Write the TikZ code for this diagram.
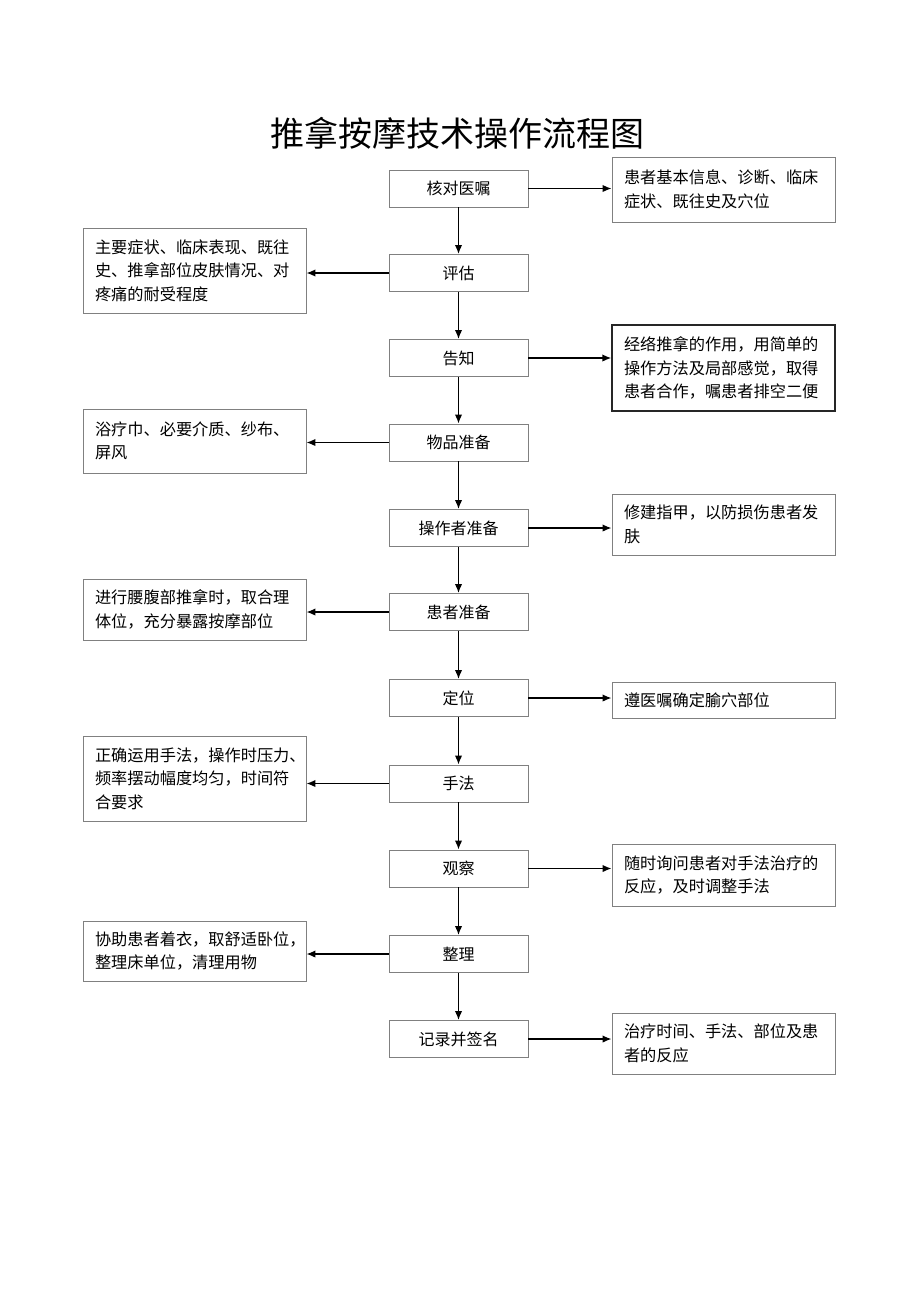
\documentclass[tikz,border=0pt]{standalone}
\usepackage{fontspec}
\setmainfont{Noto Sans CJK SC}
\usepackage{tikz}
\usetikzlibrary{shapes,arrows.meta}
\usetikzlibrary{calc}
\tikzstyle{block} = [draw=gray, line width=0.9pt, rectangle, 
    minimum height=37pt, minimum width=139pt, font=\fontsize{16}{22}\selectfont]
\tikzstyle{note} = [draw=gray, line width=0.9pt, rectangle, inner xsep=12pt,
    text width=199pt, align=left, font=\fontsize{16.2}{23.5}\selectfont]
\tikzstyle{line} = [draw, line width=1.5pt]

\begin{document}
\begin{tikzpicture}[x=1pt,y=-1pt,>={Latex[length=9pt,width=7.5pt]}]
    \useasboundingbox (0,0) rectangle (920,1301);
    \node [font=\fontsize{34}{40}\selectfont] at (457,133) (title) {推拿按摩技术操作流程图};
    % main steps
    \node [block] at (458.5,188.5) (hedui) {核对医嘱};
    \node [block] at (458.5,273) (pinggu) {评估};
    \node [block] at (458.5,358) (gaozhi) {告知};
    \node [block] at (458.5,442.5) (wupin) {物品准备};
    \node [block] at (458.5,528) (czz) {操作者准备};
    \node [block] at (458.5,612) (hzz) {患者准备};
    \node [block] at (458.5,698) (dingwei) {定位};
    \node [block] at (458.5,783.5) (shoufa) {手法};
    \node [block] at (458.5,868.5) (guancha) {观察};
    \node [block] at (458.5,954) (zhengli) {整理};
    \node [block] at (458.5,1039) (jilu) {记录并签名};
    % side notes, right
    \node [note, minimum height=65pt] at (723.5,189.5) (hedui_r) {患者基本信息、诊断、临床\\症状、既往史及穴位};
    \node [note, minimum height=86pt, draw=black!85, line width=1.4pt] at (723.5,368) (gaozhi_r) {经络推拿的作用，用简单的\\操作方法及局部感觉，取得\\患者合作，嘱患者排空二便};
    \node [note, minimum height=61pt] at (723.5,524.5) (czz_r) {修建指甲，以防损伤患者发\\肤};
    \node [note, minimum height=36pt] at (723.5,700) (dingwei_r) {遵医嘱确定腧穴部位};
    \node [note, minimum height=62pt] at (723.5,875) (guancha_r) {随时询问患者对手法治疗的\\反应，及时调整手法};
    \node [note, minimum height=61pt] at (723.5,1043.5) (jilu_r) {治疗时间、手法、部位及患\\者的反应};
    % side notes, left
    \node [note, minimum height=85pt] at (194.5,270.5) (pinggu_l) {主要症状、临床表现、既往\\史、推拿部位皮肤情况、对\\疼痛的耐受程度};
    \node [note, minimum height=64pt] at (194.5,441) (wupin_l) {浴疗巾、必要介质、纱布、\\屏风};
    \node [note, minimum height=61pt] at (194.5,609.5) (hzz_l) {进行腰腹部推拿时，取合理\\体位，充分暴露按摩部位};
    \node [note, minimum height=85pt] at (194.5,778.5) (shoufa_l) {正确运用手法，操作时压力、\\频率摆动幅度均匀，时间符\\合要求};
    \node [note, minimum height=60pt] at (194.5,951) (zhengli_l) {协助患者着衣，取舒适卧位，\\整理床单位，清理用物};
    % flow
    \draw [line,->] (hedui) -- (pinggu);
    \draw [line,->] (pinggu) -- (gaozhi);
    \draw [line,->] (gaozhi) -- (wupin);
    \draw [line,->] (wupin) -- (czz);
    \draw [line,->] (czz) -- (hzz);
    \draw [line,->] (hzz) -- (dingwei);
    \draw [line,->] (dingwei) -- (shoufa);
    \draw [line,->] (shoufa) -- (guancha);
    \draw [line,->] (guancha) -- (zhengli);
    \draw [line,->] (zhengli) -- (jilu);
    % to the notes
    \draw [line,->] (hedui.east) -- (hedui.east -| hedui_r.west);
    \draw [line,->] (gaozhi.east) -- (gaozhi.east -| gaozhi_r.west);
    \draw [line,->] (czz.east) -- (czz.east -| czz_r.west);
    \draw [line,->] (dingwei.east) -- (dingwei.east -| dingwei_r.west);
    \draw [line,->] (guancha.east) -- (guancha.east -| guancha_r.west);
    \draw [line,->] (jilu.east) -- (jilu.east -| jilu_r.west);
    \draw [line,->] (pinggu.west) -- (pinggu.west -| pinggu_l.east);
    \draw [line,->] (wupin.west) -- (wupin.west -| wupin_l.east);
    \draw [line,->] (hzz.west) -- (hzz.west -| hzz_l.east);
    \draw [line,->] (shoufa.west) -- (shoufa.west -| shoufa_l.east);
    \draw [line,->] (zhengli.west) -- (zhengli.west -| zhengli_l.east);
\end{tikzpicture}
\end{document}
